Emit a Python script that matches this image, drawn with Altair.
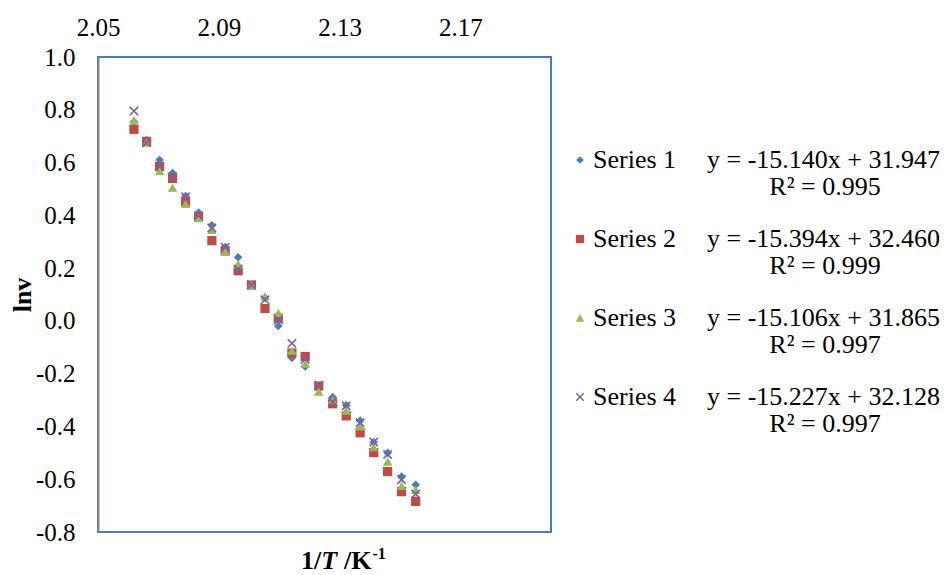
import altair as alt
import pandas as pd

# ---------------- data ----------------
inv_T = [2.0619, 2.0661, 2.0704, 2.0747, 2.0790, 2.0833, 2.0877, 2.0921, 2.0964, 2.1008, 2.1053,
         2.1097, 2.1142, 2.1186, 2.1231, 2.1277, 2.1322, 2.1368, 2.1413, 2.1459, 2.1505, 2.1552]

series_1 = [0.755, 0.685, 0.610, 0.560, 0.473, 0.410, 0.362, 0.280, 0.241, 0.136, 0.087,
            -0.019, -0.140, -0.173, -0.250, -0.289, -0.320, -0.378, -0.460, -0.500, -0.590, -0.621]
series_2 = [0.726, 0.680, 0.585, 0.540, 0.452, 0.395, 0.304, 0.265, 0.190, 0.136, 0.047,
            0.010, -0.122, -0.135, -0.247, -0.314, -0.360, -0.424, -0.499, -0.571, -0.647, -0.684]
series_3 = [0.760, 0.675, 0.568, 0.505, 0.443, 0.390, 0.345, 0.263, 0.215, 0.136, 0.093,
            0.030, -0.113, -0.163, -0.268, -0.300, -0.340, -0.400, -0.478, -0.533, -0.625, -0.640]
series_4 = [0.795, 0.675, 0.585, 0.545, 0.470, 0.398, 0.352, 0.279, 0.197, 0.136, 0.080,
            0.004, -0.085, -0.145, -0.244, -0.306, -0.322, -0.386, -0.459, -0.506, -0.602, -0.656]

series_names = ["Series 1", "Series 2", "Series 3", "Series 4"]
equations = ["y = -15.140x + 31.947", "y = -15.394x + 32.460",
             "y = -15.106x + 31.865", "y = -15.227x + 32.128"]
r_squared = ["R² = 0.995", "R² = 0.999", "R² = 0.997", "R² = 0.997"]

x_ticks = [2.05, 2.09, 2.13, 2.17]
y_ticks = [-0.8, -0.6, -0.4, -0.2, 0.0, 0.2, 0.4, 0.6, 0.8, 1.0]

# ---------------- styling ----------------
FONT = "Liberation Serif"
colors = ["#4A7EBB", "#BE4B48", "#98B954", "#7D60A0"]
X_PATH = "M-1,-1L1,1M-1,1L1,-1"
shapes = ["diamond", "square", "triangle-up", X_PATH]
sizes = [75, 85, 90, 70]

W, H = 453, 475

all_series = [series_1, series_2, series_3, series_4]
rows = []
for name, vals in zip(series_names, all_series):
    for xv, yv in zip(inv_T, vals):
        rows.append({"x": xv, "y": yv, "series": name})
df = pd.DataFrame(rows)

x_scale = alt.Scale(domain=[2.05, 2.20], nice=False, zero=False)
y_scale = alt.Scale(domain=[-0.8, 1.0], nice=False, zero=False)

x_axis = alt.Axis(orient="top", values=x_ticks, format=".2f", ticks=False, tickSize=0,
                  grid=False, domain=False, labelFont=FONT, labelFontSize=25,
                  labelColor="black", labelPadding=17, title=None, labelFlush=False)
y_axis = alt.Axis(values=y_ticks, ticks=False, tickSize=0, grid=False,
                  domainColor="#868686", domainWidth=2,
                  labelExpr="(datum.value < -0.0001 ? '-' : '') + format(abs(datum.value), '.1f')",
                  labelFont=FONT, labelFontSize=25, labelColor="black", labelPadding=23,
                  labelFlush=False,
                  title="lnv", titleFont=FONT, titleFontSize=26, titleFontWeight="bold",
                  titleColor="black", titlePadding=0)

layers = []
for i, name in enumerate(series_names):
    is_x = shapes[i] == X_PATH
    mark = alt.Chart(df).transform_filter(alt.datum.series == name).mark_point(
        shape=shapes[i], size=sizes[i], filled=not is_x, color=colors[i], opacity=1,
        strokeWidth=1.6 if is_x else 0,
    ).encode(
        x=alt.X("x:Q", scale=x_scale, axis=x_axis),
        y=alt.Y("y:Q", scale=y_scale, axis=y_axis),
    )
    layers.append(mark)

# ---------------- legend (manual, to the right of the plot) ----------------
one = pd.DataFrame({"k": [0]})
row0, row_step = 103, 79
for i, name in enumerate(series_names):
    yy = row0 + i * row_step
    is_x = shapes[i] == X_PATH
    layers.append(alt.Chart(one).mark_point(
        shape=shapes[i], size=sizes[i] * 0.8, filled=not is_x, color=colors[i], opacity=1,
        strokeWidth=1.5 if is_x else 0,
    ).encode(x=alt.value(482), y=alt.value(yy)))
    layers.append(alt.Chart(one).mark_text(
        text=name, font=FONT, fontSize=26, align="left", baseline="middle", color="black"
    ).encode(x=alt.value(495), y=alt.value(yy)))
    layers.append(alt.Chart(one).mark_text(
        text=equations[i], font=FONT, fontSize=26, align="right", baseline="middle", color="black"
    ).encode(x=alt.value(842), y=alt.value(yy)))
    layers.append(alt.Chart(one).mark_text(
        text=r_squared[i], font=FONT, fontSize=26, align="center", baseline="middle", color="black"
    ).encode(x=alt.value(727), y=alt.value(yy + 27)))

# ---------------- bottom axis title: 1/T /K-1 ----------------
tx, ty = 203, 512
title_parts = [
    ("1/", 0, 0, 26, "normal"),
    ("T", 20.2, 0, 26, "italic"),
    ("/K", 43.0, 0, 26, "normal"),
    ("-1", 71.5, -10, 16, "normal"),
]
for txt, dx, dy, fs, style in title_parts:
    layers.append(alt.Chart(one).mark_text(
        text=txt, font=FONT, fontSize=fs, fontWeight="bold", fontStyle=style,
        align="left", baseline="alphabetic", color="black"
    ).encode(x=alt.value(tx + dx), y=alt.value(ty + dy)))

chart = alt.layer(*layers).properties(
    width=W, height=H,
    autosize=alt.AutoSizeParams(type="none"),
    padding={"left": 90, "top": 49, "right": 389, "bottom": 43},
    background="white",
).configure_view(stroke="#4A7EBB", strokeWidth=2)

chart.save("out.html", embed_options={"renderer": "svg", "actions": False})
